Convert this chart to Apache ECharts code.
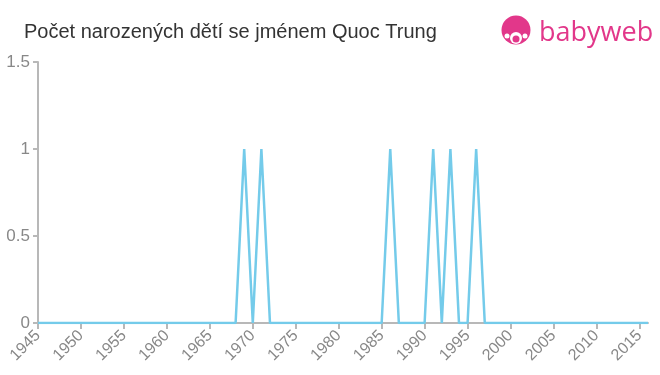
<!DOCTYPE html>
<html>
<head>
<meta charset="utf-8">
<script src="https://cdn.jsdelivr.net/npm/echarts@6/dist/echarts.min.js"></script>
<style>
html,body{margin:0;padding:0;background:#fff;}
#c{width:660px;height:375px;}
</style>
</head>
<body>
<div id="c"></div>
<script>
var titleText = 'Počet narozených dětí se jménem Quoc Trung';
var years = [
  1945,1946,1947,1948,1949,1950,1951,1952,1953,1954,
  1955,1956,1957,1958,1959,1960,1961,1962,1963,1964,
  1965,1966,1967,1968,1969,1970,1971,1972,1973,1974,
  1975,1976,1977,1978,1979,1980,1981,1982,1983,1984,
  1985,1986,1987,1988,1989,1990,1991,1992,1993,1994,
  1995,1996,1997,1998,1999,2000,2001,2002,2003,2004,
  2005,2006,2007,2008,2009,2010,2011,2012,2013,2014,
  2015,2016
];
var counts = [
  0,0,0,0,0,0,0,0,0,0,
  0,0,0,0,0,0,0,0,0,0,
  0,0,0,0,1,0,1,0,0,0,
  0,0,0,0,0,0,0,0,0,0,
  0,1,0,0,0,0,1,0,1,0,
  0,1,0,0,0,0,0,0,0,0,
  0,0,0,0,0,0,0,0,0,0,
  0,0
];
var xTicks = [1945,1950,1955,1960,1965,1970,1975,1980,1985,1990,1995,2000,2005,2010,2015];
var yTicks = [0,0.5,1,1.5];

var data = years.map(function(y,i){return [y, counts[i]];});
var chart = echarts.init(document.getElementById('c'), null, {renderer:'canvas'});
var font = '"Liberation Sans", Arial, sans-serif';
chart.setOption({
  animation:false,
  backgroundColor:'#fff',
  title:{
    text:titleText, left:19, top:17,
    textStyle:{fontFamily:font, fontSize:20, fontWeight:'normal', color:'#333'}
  },
  grid:{left:38, right:12, top:62, bottom:52, containLabel:false},
  xAxis:{
    type:'value', min:1945, max:2016, interval:5,
    splitLine:{show:false},
    axisLine:{lineStyle:{color:'#b8b8b8', width:2}},
    axisTick:{show:true, length:6, lineStyle:{color:'#b8b8b8', width:2}, customValues:xTicks},
    axisLabel:{customValues:xTicks, rotate:45, color:'#888', fontFamily:font, fontSize:16, margin:10,
      formatter:function(v){return String(v);}}
  },
  yAxis:{
    type:'value', min:0, max:1.5, interval:0.5,
    splitLine:{show:false},
    axisLine:{show:true, lineStyle:{color:'#b8b8b8', width:2}},
    axisTick:{show:true, length:5, lineStyle:{color:'#b8b8b8', width:2}},
    axisLabel:{color:'#888', fontFamily:font, fontSize:17, margin:8,
      formatter:function(v){return String(v);}}
  },
  series:[{
    type:'line', data:data, showSymbol:false, symbol:'none',
    lineStyle:{color:'#74cbea', width:2.5},
    z:3
  }],
  graphic:[
    {type:'circle', shape:{cx:516, cy:30, r:14.5}, style:{fill:'#e2378a'}},
    {type:'circle', shape:{cx:516, cy:38, r:6}, style:{fill:'#fff'}},
    {type:'circle', shape:{cx:516, cy:39, r:3.5}, style:{fill:'#e2378a'}},
    {type:'circle', shape:{cx:507, cy:36, r:2.5}, style:{fill:'#fff'}},
    {type:'circle', shape:{cx:525, cy:36, r:2.5}, style:{fill:'#fff'}},
    {type:'text', x:539, y:33, style:{text:'babyweb', fill:'#e2378a', fontFamily:'"Open Sans", "Liberation Sans", sans-serif', fontSize:27, fontWeight:'normal', textVerticalAlign:'middle', textAlign:'left'}}
  ]
});
</script>
</body>
</html>
